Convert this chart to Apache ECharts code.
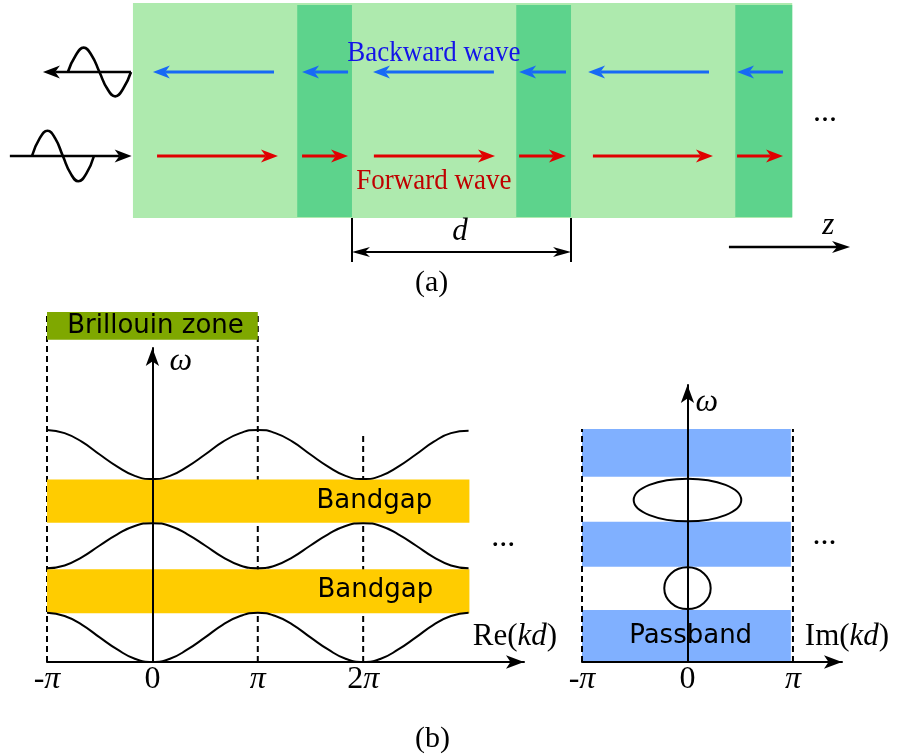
<!DOCTYPE html>
<html><head><meta charset="utf-8">
<script src="https://cdn.jsdelivr.net/npm/echarts@6/dist/echarts.min.js"></script>
<style>html,body{margin:0;padding:0;background:#fff}#c{width:900px;height:756px}</style>
</head><body><div id="c"></div>
<script>
// ================= (a) periodic layered structure (z in units of the period d) =================
const structureExtent = [-1, 2.01];
const darkLayers = [[-0.25, 0], [0.75, 1], [1.75, 2.01]];
const backwardArrowsZ = [[-0.356, -0.909], [-0.018, -0.228], [0.648, 0.096], [0.977, 0.763], [1.630, 1.078], [1.968, 1.758]];
const forwardArrowsZ = [[-0.890, -0.338], [-0.228, -0.018], [0.100, 0.653], [0.763, 0.977], [1.100, 1.648], [1.758, 1.968]];
const reflectedWaveZ = [-1.297, -1.261, -1.225, -1.189, -1.153, -1.117, -1.081, -1.045, -1.009];
const reflectedWaveV = [1, 1.2, 1.29, 1.2, 1, 0.8, 0.71, 0.8, 1];
const incidentWaveZ = [-1.461, -1.426, -1.390, -1.355, -1.320, -1.284, -1.249, -1.213, -1.178];
const incidentWaveV = [0, 0.21, 0.3, 0.21, 0, -0.21, -0.3, -0.21, 0];
const reflectedArrowZ = [-1.009, -1.411];
const incidentArrowZ = [-1.562, -1.006];
const periodMarksZ = [0, 1];
const zArrowZ = [1.721, 2.274];

// ================= (b) band structure (kd in units of π, ω in band units) =================
const kdPi = [-1, -0.833, -0.667, -0.5, -0.333, -0.167, 0, 0.167, 0.333, 0.5, 0.667, 0.833, 1,
              1.167, 1.333, 1.5, 1.667, 1.833, 2, 2.167, 2.333, 2.5, 2.667, 2.833, 3];
const band1 = [1.06, 0.99, 0.8, 0.53, 0.27, 0.07, 0, 0.07, 0.27, 0.53, 0.8, 0.99, 1.06,
               0.99, 0.8, 0.53, 0.27, 0.07, 0, 0.07, 0.27, 0.53, 0.8, 0.99, 1.06];
const band2 = [2.02, 2.08, 2.26, 2.51, 2.75, 2.93, 2.99, 2.93, 2.75, 2.51, 2.26, 2.08, 2.02,
               2.08, 2.26, 2.51, 2.75, 2.93, 2.99, 2.93, 2.75, 2.51, 2.26, 2.08, 2.02];
const band3 = [5.0, 4.93, 4.74, 4.47, 4.21, 4.01, 3.94, 4.01, 4.21, 4.47, 4.74, 4.93, 5.0,
               4.93, 4.74, 4.47, 4.21, 4.01, 3.94, 4.01, 4.21, 4.47, 4.74, 4.93, 4.98];
const bandgaps = [[1.05, 2.0], [3.0, 3.93]];
const passbands = [[0, 1.12], [2.05, 3.02], [3.99, 5.02]];
const imLoops = [[3.49, 0.51, 0.46], [1.59, 0.22, 0.45]]; // [ω centre, Im(kd) half-width, ω half-height]
const reTickValues = [-1, 0, 1, 2];
const reTickLabels = ['-π', '0', 'π', '2π'];
const imTickValues = [-1, 0, 1];
const imTickLabels = ['-π', '0', 'π'];

// ================= helpers =================
const SERIF = '"Liberation Serif", "Times New Roman", serif';
const SANS = '"DejaVu Sans", sans-serif';

function rectSeries(gi, rects, fill, z) {
  return {
    type: 'custom', xAxisIndex: gi, yAxisIndex: gi, z: z, silent: true, clip: false,
    data: rects,
    renderItem: function (p, api) {
      const a = api.coord([api.value(0), api.value(3)]);
      const b = api.coord([api.value(1), api.value(2)]);
      return { type: 'rect', shape: { x: a[0], y: a[1], width: b[0] - a[0], height: b[1] - a[1] }, style: { fill: fill } };
    }
  };
}
function dashSeries(gi, segs, z) {
  return {
    type: 'custom', xAxisIndex: gi, yAxisIndex: gi, z: z, silent: true, clip: false,
    data: segs,
    renderItem: function (p, api) {
      const a = api.coord([api.value(0), api.value(1)]);
      const b = api.coord([api.value(0), api.value(2)]);
      return { type: 'line', shape: { x1: a[0], y1: a[1], x2: b[0], y2: b[1] }, style: { stroke: '#000', lineWidth: 2, lineDash: [6, 4] } };
    }
  };
}
function arrowSeries(gi, segs, color, width, headLen, headW, both, z) {
  return {
    type: 'custom', xAxisIndex: gi, yAxisIndex: gi, z: z, silent: true, clip: false,
    data: segs,
    renderItem: function (p, api) {
      const a = api.coord([api.value(0), api.value(1)]);
      const b = api.coord([api.value(2), api.value(3)]);
      function head(tip, from) {
        const dx = tip[0] - from[0], dy = tip[1] - from[1], L = Math.hypot(dx, dy);
        const ux = dx / L, uy = dy / L, px = -uy, py = ux;
        const bx = tip[0] - ux * headLen, by = tip[1] - uy * headLen;
        const notch = [tip[0] - ux * headLen * 0.72, tip[1] - uy * headLen * 0.72];
        return {
          poly: { type: 'polygon', shape: { points: [tip, [bx + px * headW / 2, by + py * headW / 2], notch, [bx - px * headW / 2, by - py * headW / 2]] }, style: { fill: color } },
          notch: notch
        };
      }
      const children = [];
      const h2 = head(b, a);
      let start = a;
      if (both) { const h1 = head(a, b); children.push(h1.poly); start = h1.notch; }
      children.unshift({ type: 'line', shape: { x1: start[0], y1: start[1], x2: h2.notch[0], y2: h2.notch[1] }, style: { stroke: color, lineWidth: width } });
      children.push(h2.poly);
      return { type: 'group', children: children };
    }
  };
}
function textSeries(gi, items, z) {
  return {
    type: 'custom', xAxisIndex: gi, yAxisIndex: gi, z: z, silent: true, clip: false,
    data: items.map(function (it) { return it.at; }),
    renderItem: function (p, api) {
      const it = items[p.dataIndex];
      const c = api.coord([api.value(0), api.value(1)]);
      return { type: 'text', x: c[0], y: c[1], scaleY: it.sy || 1, style: { text: it.text, fill: it.color || '#000', font: it.font, align: 'center', verticalAlign: 'middle' } };
    }
  };
}
function ellipseSeries(gi, loops, z) {
  return {
    type: 'custom', xAxisIndex: gi, yAxisIndex: gi, z: z, silent: true, clip: false,
    data: loops.map(function (l) { return [0, l[0], l[1], l[2]]; }),
    renderItem: function (p, api) {
      const c = api.coord([api.value(0), api.value(1)]);
      const s = api.size([api.value(2), api.value(3)]);
      return { type: 'ellipse', shape: { cx: c[0], cy: c[1], rx: s[0], ry: s[1] }, style: { fill: 'none', stroke: '#000', lineWidth: 2 } };
    }
  };
}
function curve(values) {
  return {
    type: 'line', xAxisIndex: 1, yAxisIndex: 1, z: 4, smooth: true, showSymbol: false, symbol: 'none', silent: true,
    lineStyle: { color: '#000', width: 2 },
    data: kdPi.map(function (k, i) { return [k, values[i]]; })
  };
}
function tickRich(s) {
  return s.split('').map(function (ch) { return ch === 'π' ? '{p|π}' : '{n|' + ch + '}'; }).join('');
}
const tickRichStyles = {
  n: { fontFamily: SERIF, fontSize: 32, color: '#000' },
  p: { fontFamily: SERIF, fontSize: 32, fontStyle: 'italic', color: '#000' }
};
const axisLineStyle = { show: true, onZero: true, lineStyle: { color: '#000', width: 2 }, symbol: ['none', 'arrow'], symbolSize: [10, 18] };
const nameRich = {
  r: { fontFamily: SERIF, fontSize: 31, color: '#000' },
  i: { fontFamily: SERIF, fontSize: 31, fontStyle: 'italic', color: '#000' }
};

// ================= option =================
const option = {
  animation: false,
  backgroundColor: '#ffffff',
  title: [
    { text: '(a)', left: 410, top: 263, textStyle: { fontFamily: SERIF, fontSize: 30, fontWeight: 'normal', color: '#000' } },
    { text: '(b)', left: 410, top: 719, textStyle: { fontFamily: SERIF, fontSize: 30, fontWeight: 'normal', color: '#000' } }
  ],
  grid: [
    { left: 0, top: 0, width: 900, height: 300 },
    { left: 47, top: 348, width: 477, height: 314 },
    { left: 582, top: 385, width: 260, height: 277 }
  ],
  xAxis: [
    { gridIndex: 0, type: 'value', min: -1.607, max: 2.502, show: false },
    {
      gridIndex: 1, type: 'value', min: -1, max: 3.526, interval: 1, z: 6,
      splitLine: { show: false }, axisTick: { show: false }, axisLine: axisLineStyle,
      axisLabel: {
        margin: 2, showMaxLabel: false,
        formatter: function (v) { const i = reTickValues.indexOf(v); return i < 0 ? '' : tickRich(reTickLabels[i]); },
        rich: tickRichStyles
      },
      name: '{r|Re(}{i|kd}{r|)}', nameLocation: 'end', nameGap: -9,
      nameTextStyle: { align: 'center', verticalAlign: 'bottom', padding: [0, 0, 10, 0], rich: nameRich }
    },
    {
      gridIndex: 2, type: 'value', min: -1, max: 1.465, interval: 1, z: 6,
      splitLine: { show: false }, axisTick: { show: false }, axisLine: axisLineStyle,
      axisLabel: {
        margin: 2, showMaxLabel: false,
        formatter: function (v) { const i = imTickValues.indexOf(v); return i < 0 ? '' : tickRich(imTickLabels[i]); },
        rich: tickRichStyles
      },
      name: '{r|Im(}{i|kd}{r|)}', nameLocation: 'end', nameGap: 5,
      nameTextStyle: { align: 'center', verticalAlign: 'bottom', padding: [0, 0, 10, 0], rich: nameRich }
    }
  ],
  yAxis: [
    { gridIndex: 0, type: 'value', min: -1.714, max: 1.857, show: false },
    {
      gridIndex: 1, type: 'value', min: 0, max: 6.764, z: 6,
      splitLine: { show: false }, axisTick: { show: false }, axisLabel: { show: false }, axisLine: axisLineStyle,
      name: 'ω', nameLocation: 'end', nameGap: -14,
      nameTextStyle: { fontFamily: SERIF, fontStyle: 'italic', fontSize: 32, color: '#000', align: 'left', verticalAlign: 'middle', padding: [0, 0, 0, 17] }
    },
    {
      gridIndex: 2, type: 'value', min: 0, max: 5.967, z: 6,
      splitLine: { show: false }, axisTick: { show: false }, axisLabel: { show: false }, axisLine: axisLineStyle,
      name: 'ω', nameLocation: 'end', nameGap: -18,
      nameTextStyle: { fontFamily: SERIF, fontStyle: 'italic', fontSize: 32, color: '#000', align: 'left', verticalAlign: 'middle', padding: [0, 0, 0, 8] }
    }
  ],
  series: [
    // ---- (a) ----
    rectSeries(0, [[structureExtent[0], structureExtent[1], -0.738, 1.822]], '#aeeaae', 1),
    rectSeries(0, darkLayers.map(function (d) { return [d[0], d[1], -0.726, 1.798]; }), '#5dd38c', 2),
    arrowSeries(0, backwardArrowsZ.map(function (s) { return [s[0], 1, s[1], 1]; }), '#1769f5', 3, 17, 13, false, 3),
    arrowSeries(0, forwardArrowsZ.map(function (s) { return [s[0], 0, s[1], 0]; }), '#e00000', 3, 17, 13, false, 3),
    {
      type: 'line', xAxisIndex: 0, yAxisIndex: 0, z: 3, smooth: true, symbol: 'none', silent: true,
      lineStyle: { color: '#000', width: 2.6 },
      data: reflectedWaveZ.map(function (z, i) { return [z, reflectedWaveV[i]]; })
    },
    {
      type: 'line', xAxisIndex: 0, yAxisIndex: 0, z: 3, smooth: true, symbol: 'none', silent: true,
      lineStyle: { color: '#000', width: 2.6 },
      data: incidentWaveZ.map(function (z, i) { return [z, incidentWaveV[i]]; })
    },
    arrowSeries(0, [[reflectedArrowZ[0], 1, reflectedArrowZ[1], 1], [incidentArrowZ[0], 0, incidentArrowZ[1], 0]], '#000', 2.6, 17, 13, false, 3),
    arrowSeries(0, [[periodMarksZ[0], -1.143, periodMarksZ[1], -1.143]], '#000', 2, 18, 10, true, 3),
    arrowSeries(0, [[zArrowZ[0], -1.083, zArrowZ[1], -1.083]], '#000', 2.5, 18, 12, false, 3),
    {
      type: 'custom', xAxisIndex: 0, yAxisIndex: 0, z: 3, silent: true, clip: false,
      data: periodMarksZ.map(function (z) { return [z, -0.738, -1.262]; }),
      renderItem: function (p, api) {
        const a = api.coord([api.value(0), api.value(1)]);
        const b = api.coord([api.value(0), api.value(2)]);
        return { type: 'line', shape: { x1: a[0], y1: a[1], x2: b[0], y2: b[1] }, style: { stroke: '#000', lineWidth: 2 } };
      }
    },
    textSeries(0, [
      { at: [0.374, 1.23], text: 'Backward wave', color: '#1414e8', font: '27px ' + SERIF, sy: 1.12 },
      { at: [0.374, -0.295], text: 'Forward wave', color: '#bf0000', font: '27px ' + SERIF, sy: 1.12 },
      { at: [0.493, -0.905], text: 'd', font: 'italic 31px ' + SERIF },
      { at: [2.174, -0.833], text: 'z', font: 'italic 31px ' + SERIF },
      { at: [2.16, 0.52], text: '...', font: '32px ' + SERIF }
    ], 4),

    // ---- (b) left: Re(kd) ----
    dashSeries(1, [[-1, 0, 7.54], [1, 0, 7.54], [2, 0, 4.95]], 1),
    rectSeries(1, bandgaps.map(function (g) { return [-1, 3.008, g[0], g[1]]; }), '#ffcc00', 2),
    rectSeries(1, [[-1, 1, 6.94, 7.54]], '#7fa800', 2),
    curve(band1), curve(band2), curve(band3),
    textSeries(1, [
      { at: [2.106, 3.47], text: 'Bandgap', font: '26px ' + SANS },
      { at: [2.115, 1.55], text: 'Bandgap', font: '26px ' + SANS },
      { at: [0.03, 7.24], text: 'Brillouin zone', font: '26px ' + SANS },
      { at: [3.33, 2.68], text: '...', font: '32px ' + SERIF }
    ], 5),

    // ---- (b) right: Im(kd) ----
    rectSeries(2, passbands.map(function (b) { return [-1, 0.98, b[0], b[1]]; }), '#80b0ff', 1),
    dashSeries(2, [[-1, 0, 5.02], [1, 0, 5.02]], 2),
    ellipseSeries(2, imLoops, 4),
    textSeries(2, [
      { at: [0.03, 0.56], text: 'Passband', font: '26px ' + SANS },
      { at: [1.30, 2.72], text: '...', font: '32px ' + SERIF }
    ], 5)
  ]
};

const chart = echarts.init(document.getElementById('c'), null, { renderer: 'canvas' });
chart.setOption(option);
</script>
</body></html>
